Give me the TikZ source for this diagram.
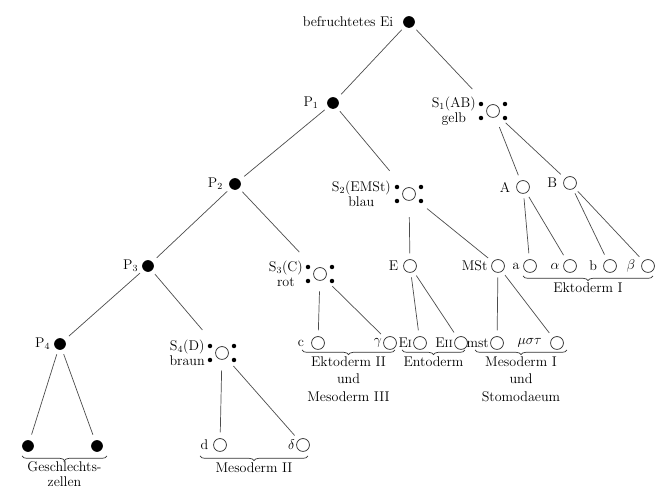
\documentclass[tikz,border=0pt]{standalone}
\usetikzlibrary{decorations.pathreplacing}

\begin{document}
\begin{tikzpicture}[
    x=0.03cm, y=-0.03cm,
    every node/.style={font=\fontsize{12}{15}\selectfont},
    every label/.style={inner sep=1pt},
    label distance=2pt,
    cell/.style={circle, fill=black, minimum size=10pt, inner sep=0pt},
    blast/.style={circle, draw=black!85, line width=0.6pt, minimum size=11pt, inner sep=0pt},
    somatxt/.style={anchor=east, align=center, inner sep=0pt, font=\fontsize{12}{13}\selectfont},
    every edge/.append style={draw=black!70, line width=0.6pt, shorten <=4pt, shorten >=5pt},
    tosoma/.style={shorten >=20pt},
    fromsoma/.style={shorten <=9pt},
    brace/.style={decorate, decoration={brace, mirror, amplitude=4pt}, draw=black!80, line width=0.6pt}
]
   \useasboundingbox (0,0) rectangle (661,489);

   % Keimbahn
   \node[cell, label={[label distance=7pt]left:befruchtetes Ei}] (Ei) at (409,22) {};
   \node[cell, label={[label distance=6pt]left:P$_1$}] (P1) at (333,103) {};
   \node[cell, label={[label distance=4pt]left:P$_2$}] (P2) at (235,184) {};
   \node[cell, label=left:P$_3$] (P3) at (148,266) {};
   \node[cell, label=left:P$_4$] (P4) at (60,344) {};
   \node[cell] (G1) at (28,446) {};
   \node[cell] (G2) at (97,446) {};

   % Somazellen
   \node[blast] (S1) at (493,111) {};
   \node[blast] (S2) at (409,194) {};
   \node[blast] (S3) at (320,274) {};
   \node[blast] (S4) at (222,353) {};
   \node[somatxt] (S1t) at ([shift={(-17,0)}]S1.center) {S$_1$(AB)\\gelb};
   \node[somatxt] (S2t) at ([shift={(-18,0)}]S2.center) {S$_2$(EMSt)\\blau};
   \node[somatxt] (S3t) at ([shift={(-17,0)}]S3.center) {S$_3$(C)\\rot};
   \node[somatxt] (S4t) at ([shift={(-17,0)}]S4.center) {S$_4$(D)\\braun};
   \foreach \s in {S1,S2,S3,S4}
      \foreach \dx/\dy in {-12/-7, 12/-7, -12/7, 12/7}
         \fill ([shift={(\dx,\dy)}]\s.center) circle (1.9pt);

   % Tochterzellen
   \node[blast, label={[label distance=4pt]left:A}] (A) at (523,187) {};
   \node[blast, label={[label distance=4pt]left:B}] (B) at (570,183) {};
   \node[blast, label={[label distance=3pt]left:E}] (E) at (410,266) {};
   \node[blast, label=left:MSt] (MSt) at (498,266) {};
   \node[blast, label=left:a] (a) at (530,266) {};
   \node[blast, label=left:$\alpha$] (al) at (570,266) {};
   \node[blast, label={[label distance=4pt]left:b}] (b) at (610,266) {};
   \node[blast, label={[label distance=4pt]left:$\beta$}] (be) at (648,266) {};
   \node[blast, label={[label distance=5pt]left:c}] (c) at (318,343) {};
   \node[blast, label={[label distance=0pt]left:$\gamma$}] (ga) at (390,343) {};
   \node[blast, label={[label distance=0pt]left:E{\small I}}] (EI) at (420,343) {};
   \node[blast, label={[label distance=0pt]left:E{\small II}}] (EII) at (461,343) {};
   \node[blast, label={[label distance=0pt]left:mst}] (mst) at (497,343) {};
   \node[blast, label={[label distance=6pt]left:$\mu\sigma\tau$}] (mso) at (557,343) {};
   \node[blast, label={[label distance=3pt]left:d}] (d) at (220,445) {};
   \node[blast, label={[label distance=0pt]left:$\delta$}] (de) at (303,445) {};

   % Teilungen
   \path
   (Ei) edge (P1)
   (Ei) edge[tosoma] (S1)
   (P1) edge (P2)
   (P1) edge[tosoma] (S2)
   (P2) edge (P3)
   (P2) edge[tosoma] (S3)
   (P3) edge (P4)
   (P3) edge[tosoma] (S4)
   (P4) edge (G1)
   (P4) edge (G2)

   (S1) edge[fromsoma] (A)
   (S1) edge[fromsoma] (B)
   (S2) edge[fromsoma, shorten <=14pt] (E)
   (S2) edge[fromsoma, shorten <=14pt] (MSt)
   (S3) edge[fromsoma] (c)
   (S3) edge[fromsoma] (ga)
   (S4) edge[fromsoma] (d)
   (S4) edge[fromsoma] (de)

   (A) edge (a)
   (A) edge (al)
   (B) edge (b)
   (B) edge (be)
   (E) edge (EI)
   (E) edge (EII)
   (MSt) edge (mst)
   (MSt) edge (mso);

   % Keimblaetter
   \draw[brace] ([shift={(-7,10)}]a.center) -- ([shift={(5,10)}]be.center)
      node[midway, below=2pt] (ekt1) {Ektoderm I};
   \draw[brace] ([shift={(-16,7)}]c.center) -- ([shift={(5,7)}]ga.center)
      node[midway, below=2pt, align=center] (ekt2) {Ektoderm II\\und\\Mesoderm III};
   \draw[brace] ([shift={(-18,7)}]EI.center) -- ([shift={(4,7)}]EII.center)
      node[midway, below=2pt] (ento) {Entoderm};
   \draw[brace] ([shift={(-22,7)}]mst.center) -- ([shift={(10,7)}]mso.center)
      node[midway, below=2pt, align=center] (mes1) {Mesoderm I\\und\\Stomodaeum};
   \draw[brace] ([shift={(-20,11)}]d.center) -- ([shift={(5,11)}]de.center)
      node[midway, below=2pt] (mes2) {Mesoderm II};
   \draw[brace] ([shift={(-6,10)}]G1.center) -- ([shift={(10,10)}]G2.center)
      node[midway, below=1pt, align=center, font=\fontsize{12}{13}\selectfont] (gz) {Geschlechts-\\zellen};
\end{tikzpicture}
\end{document}
